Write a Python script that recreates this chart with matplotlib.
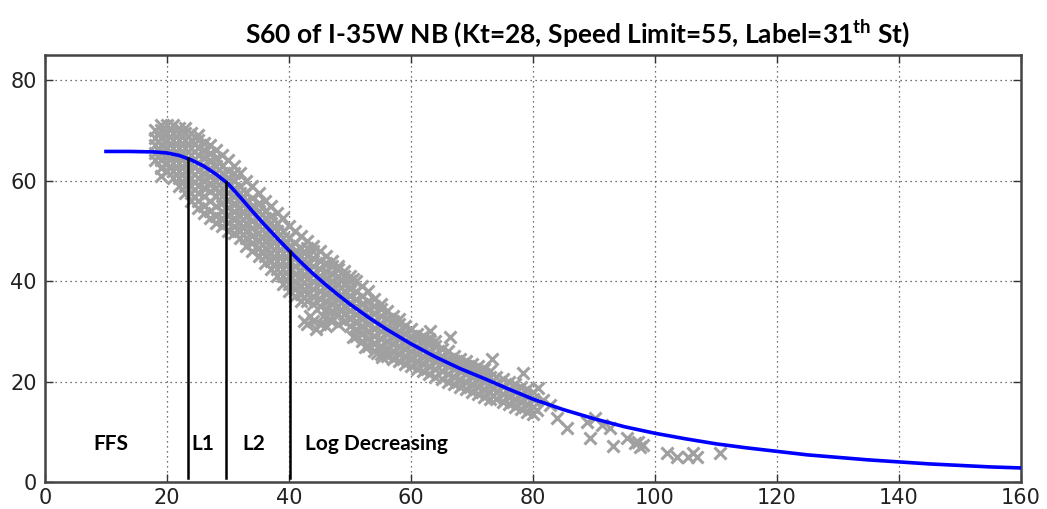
import matplotlib
matplotlib.use("Agg")
import matplotlib.pyplot as plt

# ---------------- data ----------------
title_text = "S60 of I-35W NB (Kt=28, Speed Limit=55, Label=31$^{\\mathbf{th}}$ St)"
x_ticks = [0, 20, 40, 60, 80, 100, 120, 140, 160]
y_ticks = [0, 20, 40, 60, 80]

# fitted curve (density, speed)
curve_x = [10, 14, 18, 20, 22, 24, 26, 28, 30, 32, 34, 36, 38, 40, 42, 44, 46, 48, 50,
           53, 56, 60, 64, 68, 72, 76, 80, 85, 90, 95, 100, 105, 110, 115, 120, 125,
           130, 135, 140, 145, 150, 155, 160]
curve_y = [65.8, 65.8, 65.7, 65.5, 65.0, 64.1, 62.9, 61.3, 59.4, 56.7, 53.9, 51.2, 48.6,
           46.1, 43.7, 41.4, 39.3, 37.3, 35.4, 32.8, 30.4, 27.5, 24.9, 22.6, 20.6, 18.5,
           16.5, 14.4, 12.6, 11.0, 9.7, 8.6, 7.6, 6.8, 6.1, 5.4, 4.9, 4.4, 4.0, 3.6,
           3.3, 3.0, 2.8]

# regime boundaries
break_x = [23.4, 29.7, 40.1]
break_top = [64.4, 59.8, 46.0]
break_bottom = 0.7

# regime labels
label_text = ["FFS", "L1", "L2", "Log Decreasing"]
label_x = [10.8, 25.9, 34.2, 42.6]
label_ha = ["center", "center", "center", "left"]
label_y = 7.6

# observed points: one column of speeds per density value
obs_cols_x = list(range(18, 81))
obs_cols_y = [
    [64, 65.5, 67, 68.5, 70],
    [61, 62.5, 64, 65.5, 67, 68.5, 70, 71],
    [62, 63.5, 65, 66.5, 68, 69.5, 71],
    [60.5, 62, 63.5, 65, 66.5, 68, 69.5, 71],
    [59, 60.5, 62, 63.5, 65, 66.5, 68, 69.5, 70.5],
    [57.5, 59, 60.5, 62, 63.5, 65, 66.5, 68, 69.5, 70.5],
    [56, 57.5, 59, 60.5, 62, 63.5, 65, 66.5, 68, 69.5],
    [54.5, 56, 57.5, 59, 60.5, 62, 63.5, 65, 66.5, 68, 69],
    [53.5, 55, 57, 58.5, 60, 61.5, 63, 64.5, 66, 67.5],
    [52.5, 54, 56, 58, 59.5, 61, 62.5, 64, 65.5, 67],
    [51.5, 53, 55, 57, 58.5, 60, 61.5, 63, 64.5, 66],
    [51, 52.5, 54, 55.5, 57, 58.5, 60, 61.5, 63, 65],
    [50, 51.5, 53, 54.5, 56, 57.5, 59, 60.5, 62, 64],
    [49.5, 51, 52.5, 54, 55.5, 57, 58.5, 60, 61.5, 63],
    [48.5, 50, 51.5, 53, 54.5, 56, 57.5, 59, 61.5],
    [47, 48.5, 50, 51.5, 53, 54.5, 56, 57.5, 60],
    [46, 47.5, 49, 50.5, 52, 53.5, 55, 56.5, 59],
    [45, 46.5, 48, 49.5, 51, 52.5, 54, 55.5, 57.5],
    [43.5, 45, 46.5, 48, 49.5, 51, 52.5, 54, 56],
    [42.5, 44, 45.5, 47, 48.5, 50, 51.5, 53, 55],
    [41, 42.5, 44, 45.5, 47, 48.5, 50, 51.5, 53.5],
    [39.5, 41, 42.5, 44, 45.5, 47, 48.5, 50, 52.5],
    [38, 39.5, 41, 42.5, 44, 45.5, 47, 48.5, 51],
    [37, 38.5, 40, 41.5, 43, 44.5, 46, 47.5, 50],
    [36, 37.5, 39, 40.5, 42, 43.5, 45, 46.5, 49],
    [36, 37.5, 39, 40.5, 42, 43.5, 45, 46.5, 48],
    [35.5, 37, 38.5, 40, 41.5, 43, 44.5, 46, 47],
    [35, 36.5, 38, 39.5, 41, 42.5, 44, 46],
    [34.5, 36, 37.5, 39, 40.5, 42, 43.5, 45],
    [34, 35.5, 37, 38.5, 40, 41.5, 43, 44],
    [33.5, 35, 36.5, 38, 39.5, 41, 42.5, 43],
    [32, 33.5, 35, 36.5, 38, 39.5, 41, 42],
    [31, 32.5, 34, 35.5, 37, 38.5, 40, 41],
    [29, 30.5, 32, 33.5, 35, 36.5, 38, 40],
    [28, 29.5, 31, 32.5, 34, 35.5, 37, 39],
    [27, 28.5, 30, 31.5, 33, 34.5, 36, 38],
    [26, 27.5, 29, 30.5, 32, 33.5, 35, 36.5],
    [25.5, 27, 28.5, 30, 31.5, 33, 34.5, 35.5],
    [25, 26.5, 28, 29.5, 31, 32.5, 34],
    [24.5, 26, 27.5, 29, 30.5, 32, 33],
    [24, 25.5, 27, 28.5, 30, 31.5, 32.5],
    [23.5, 25, 26.5, 28, 29.5, 31],
    [23, 24.5, 26, 27.5, 29, 30.5],
    [22.5, 24, 25.5, 27, 28.5, 29.5],
    [22, 23.5, 25, 26.5, 28, 29],
    [21.5, 23, 24.5, 26, 27.5, 28.5],
    [21, 22.5, 24, 25.5, 27, 28],
    [20.5, 22, 23.5, 25, 26.5],
    [20, 21.5, 23, 24.5, 26],
    [19.5, 21, 22.5, 24, 25],
    [19, 20.5, 22, 23.5, 24.5],
    [18.5, 20, 21.5, 23, 24],
    [18, 19.5, 21, 22.5, 23.5],
    [17.5, 19, 20.5, 22, 23],
    [17, 18.5, 20, 21.5, 22.5],
    [16.5, 18, 19.5, 21, 22],
    [16.5, 18, 19.5, 21],
    [16, 17.5, 19, 20.5],
    [15.5, 17, 18.5, 20],
    [15, 16.5, 18, 19.5],
    [14.5, 16, 17.5, 19],
    [14, 15.5, 17, 18.5],
    [13.5, 15, 16.5, 18],
]

# separate cluster and scattered observations
extra_x = [43, 44, 45, 46, 47, 44.5, 46.5, 43.5, 45.5, 42.5, 48,
           50.5, 52.5, 54.4, 55.2, 50.5, 63.1, 66.4, 73.3, 78.4, 80.8,
           80.7, 81.6, 82.8, 84.0, 85.6, 88.8, 89.3, 90.2, 91.3, 92.6, 93.1,
           95.4, 96.7, 97.5, 98.0, 97.2, 102.0, 103.6, 105.4, 106.2, 106.9, 110.7]
extra_y = [31.5, 32, 31.5, 31, 32, 30.5, 32.5, 33, 33, 32, 31.5,
           28.8, 26.8, 25.6, 24.8, 40.5, 30.1, 28.8, 24.4, 21.6, 18.8,
           14.3, 16.3, 15.3, 12.7, 10.7, 11.9, 8.7, 12.7, 11.3, 10.7, 7.1,
           8.7, 7.7, 7.0, 7.3, 7.9, 5.7, 5.0, 5.0, 5.7, 5.0, 5.7]

# ---------------- figure ----------------
plt.rcParams['mathtext.fontset'] = 'custom'
plt.rcParams['mathtext.bf'] = 'Lato:bold'
plt.rcParams['mathtext.rm'] = 'Lato'

fig = plt.figure(figsize=(10.47, 5.09), dpi=100)
ax = fig.add_axes([45 / 1047, 27 / 509, 976 / 1047, 427 / 509])

obs_x = [x for x, col in zip(obs_cols_x, obs_cols_y) for _ in col] + extra_x
obs_y = [y for col in obs_cols_y for y in col] + extra_y

ax.plot(obs_x, obs_y, linestyle='none', marker='x', markersize=8.5,
        markeredgewidth=2.2, color='#a0a0a0', zorder=2)
ax.plot(curve_x, curve_y, color='#0000ff', linewidth=2.6, zorder=3)

for bx, bt in zip(break_x, break_top):
    ax.plot([bx, bx], [break_bottom, bt], color='black', linewidth=1.8, zorder=4)

for t, lx, ha in zip(label_text, label_x, label_ha):
    ax.text(lx, label_y, t, ha=ha, va='center', fontsize=15,
            fontfamily='Lato', fontweight='bold', color='black', zorder=5)

ax.set_xlim(0, 160)
ax.set_ylim(0, 85)
ax.set_xticks(x_ticks)
ax.set_yticks(y_ticks)
ax.grid(True, linestyle=(0, (1, 3)), color='#444444', linewidth=0.9)
ax.set_axisbelow(True)
ax.tick_params(direction='in', length=6, width=1, top=True, right=True,
               labelsize=15, labelcolor='#222222', color='#333333')
ax.tick_params(axis='x', pad=4)
ax.tick_params(axis='y', pad=6)
for lab in ax.get_xticklabels() + ax.get_yticklabels():
    lab.set_fontfamily('DejaVu Sans')
for s in ax.spines.values():
    s.set_color('#444444')
    s.set_linewidth(1.8)

fig.text(577 / 1047, 1 - 33 / 509, title_text, ha='center', va='center',
         fontsize=19, fontfamily='Lato', fontweight='bold')

fig.savefig('out.png', dpi=100)
